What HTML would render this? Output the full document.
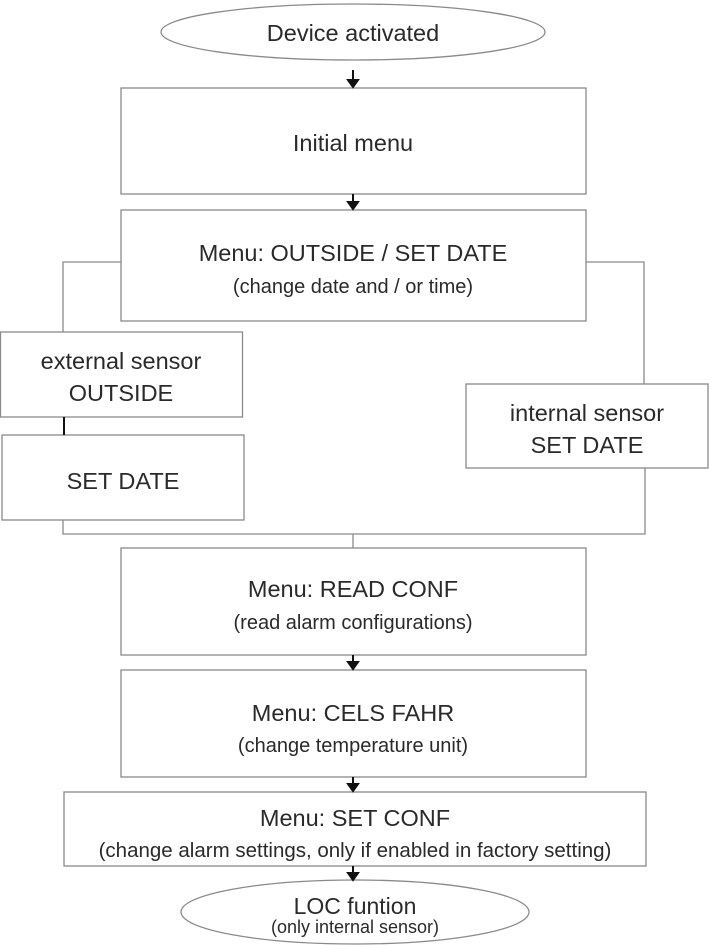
<!DOCTYPE html>
<html><head><meta charset="utf-8"><style>
html,body{margin:0;padding:0;background:#fff;}
svg{display:block;}
text{font-family:"Liberation Sans",sans-serif;fill:#2a2a2a;text-anchor:middle;}
.t{font-size:23.5px;}
.s{font-size:20px;}
</style></head><body>
<svg width="709" height="945" viewBox="0 0 709 945">
<g fill="#fff" stroke="#8a8a8a" stroke-width="1.3">
<ellipse cx="353" cy="32" rx="192" ry="28"/>
<rect x="121" y="88" width="465" height="106"/>
<rect x="121" y="210" width="465" height="111"/>
<rect x="0.5" y="332" width="242" height="85"/>
<rect x="2" y="435" width="242" height="85"/>
<rect x="466" y="384" width="242" height="84"/>
<rect x="121" y="548" width="465" height="107"/>
<rect x="121" y="670" width="465" height="107"/>
<rect x="64" y="792" width="582" height="74"/>
<ellipse cx="355" cy="912" rx="174" ry="32"/>
</g>
<g fill="none" stroke="#8a8a8a" stroke-width="1.3">
<polyline points="121,262 63,262 63,332"/>
<polyline points="586,262 644,262 644,384"/>
<polyline points="63,520 63,534 645,534 645,468"/>
<line x1="353" y1="534" x2="353" y2="548"/>
</g>
<line x1="64" y1="417" x2="64" y2="435" stroke="#111" stroke-width="2"/>
<g stroke="#111" stroke-width="2" fill="#111">
<line x1="353" y1="70" x2="353" y2="82"/><polygon points="348,80 358,80 353,87"/>
<line x1="353" y1="194" x2="353" y2="204"/><polygon points="348,202 358,202 353,209"/>
<line x1="353" y1="655" x2="353" y2="664"/><polygon points="348,662 358,662 353,669"/>
<line x1="353" y1="777" x2="353" y2="786"/><polygon points="348,784 358,784 353,791"/>
<line x1="353" y1="866" x2="353" y2="875"/><polygon points="348,873 358,873 353,880"/>
</g>
<text class="t" x="353" y="41">Device activated</text>
<text class="t" x="353" y="151">Initial menu</text>
<text class="t" x="353" y="261">Menu: OUTSIDE / SET DATE</text>
<text class="s" x="353" y="293">(change date and / or time)</text>
<text class="t" x="121" y="369">external sensor</text>
<text class="t" x="121" y="401">OUTSIDE</text>
<text class="t" x="123" y="489">SET DATE</text>
<text class="t" x="587" y="421">internal sensor</text>
<text class="t" x="587" y="453">SET DATE</text>
<text class="t" x="353" y="597">Menu: READ CONF</text>
<text class="s" x="353" y="629">(read alarm configurations)</text>
<text class="t" x="353" y="721">Menu: CELS FAHR</text>
<text class="s" x="353" y="752">(change temperature unit)</text>
<text class="t" x="355" y="826">Menu: SET CONF</text>
<text class="s" x="355" y="857" style="font-size:20.5px">(change alarm settings, only if enabled in factory setting)</text>
<text class="t" x="355" y="914" style="font-size:23px">LOC funtion</text>
<text class="s" x="355" y="933" style="font-size:18px">(only internal sensor)</text>
</svg>
</body></html>
